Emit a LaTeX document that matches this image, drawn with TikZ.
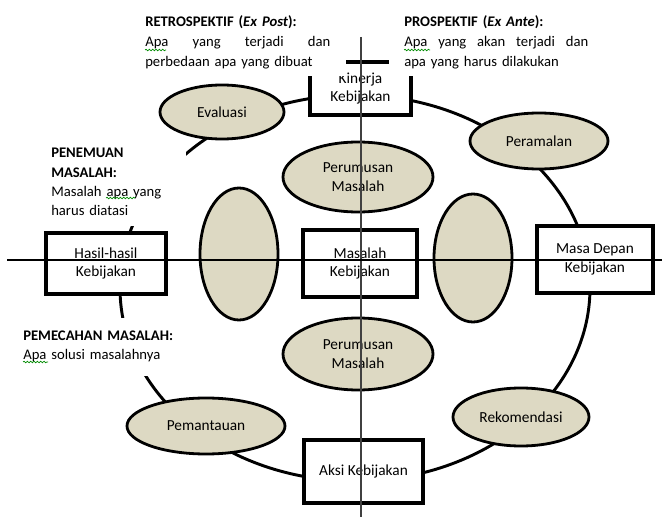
\documentclass[tikz,border=0pt]{standalone}
\usepackage{fontspec}
\setmainfont{Carlito}
\usetikzlibrary{shapes.geometric,decorations.pathmorphing}
\definecolor{ellfill}{HTML}{DDD9C3}
\begin{document}
\begin{tikzpicture}[x=0.75pt,y=-0.75pt,
  oval/.style={ellipse,draw=black,line width=2.1pt,fill=ellfill,inner sep=0pt,align=center,font=\fontsize{11.5}{14}\selectfont},
  boxnode/.style={rectangle,draw=black,line width=2.4pt,fill=white,inner sep=0pt,align=center,font=\fontsize{11.5}{14}\selectfont},
  note/.style={anchor=base west,inner sep=0pt,align=left,font=\fontsize{11}{15}\selectfont},
  cover/.style={fill=white},
  axisline/.style={line width=0.8pt},
  squig/.style={draw=green!55!black,line width=0.5pt,decorate,decoration={snake,amplitude=0.6pt,segment length=2.5pt}}
]
\useasboundingbox (0,0) rectangle (662,517);

% big cycle
\draw[line width=2.2pt] (355,288) ellipse [x radius=176.25pt, y radius=144.75pt];

% ellipses
\node[oval,minimum width=93pt,minimum height=40.5pt] (eval) at (222,112) {Evaluasi};
\node[oval,minimum width=103.5pt,minimum height=42pt] (peram) at (539,141) {Peramalan};
\node[oval,minimum width=102pt,minimum height=43.5pt] (rekom) at (521,417) {Rekomendasi};
\node[oval,minimum width=118.5pt,minimum height=42pt] (pemant) at (206,426) {Pemantauan};
\node[oval,minimum width=112.5pt,minimum height=52.5pt] (perumA) at (358,177) {Perumusan\\Masalah};
\node[oval,minimum width=112.5pt,minimum height=54pt] (perumB) at (358,354) {Perumusan\\Masalah};
\node[oval,minimum width=58.5pt,minimum height=99pt] (ellL) at (239,254) {};
\node[oval,minimum width=58.5pt,minimum height=96pt] (ellR) at (473,258) {};

% boxes
\node[boxnode,minimum width=75.75pt,minimum height=39.75pt] (kinerja) at (360.5,88.5) {Kinerja\\Kebijakan};
\node[boxnode,minimum width=90pt,minimum height=45.75pt] (hasil) at (106,263.5) {Hasil-hasil\\Kebijakan};
\node[boxnode,minimum width=85.5pt,minimum height=50.25pt] (masalah) at (360,263.5) {Masalah\\Kebijakan};
\node[boxnode,minimum width=87pt,minimum height=50.25pt] (masa) at (595,259.5) {Masa Depan\\Kebijakan};
\node[boxnode,minimum width=89.25pt,minimum height=47.25pt] (aksi) at (363.5,471.5) {Aksi Kebijakan};

% white backgrounds of the text blocks
\fill[cover] (140,3) rectangle (346,76);
\fill[cover] (389,3) rectangle (610,76);
\fill[cover] (44,140) rectangle (186,226);
\fill[cover] (18,318) rectangle (190,376);

% text blocks
\node[note,text width=138.75pt] (retro) at (145,27)
  {\textbf{RETROSPEKTIF (\textit{Ex Post}):}\\\leavevmode\hbox to\linewidth{Apa\hfill yang\hfill terjadi\hfill dan}\\perbedaan apa yang dibuat};
\node[note,text width=138pt] (prosp) at (404,27)
  {\textbf{PROSPEKTIF (\textit{Ex Ante}):}\\\leavevmode\hbox to\linewidth{Apa\hfill yang\hfill akan\hfill terjadi\hfill dan}\\apa yang harus dilakukan};
\node[note,text width=97.5pt,font=\fontsize{11}{14.5}\selectfont] (penemuan) at (51,158)
  {\textbf{PENEMUAN}\\\textbf{MASALAH:}\\Masalah apa yang\\harus diatasi};
\node[note,text width=127.5pt,font=\fontsize{11}{14.5}\selectfont] (pemecahan) at (23,340)
  {\textbf{PEMECAHAN MASALAH:}\\Apa solusi masalahnya};

% spell-check squiggles
\draw[squig] (145,50) -- (166,50);
\draw[squig] (404,50) -- (430,50);
\draw[squig] (106,198) -- (135,198);
\draw[squig] (23,362) -- (48,362);

% axes
\coordinate (vtop) at (361,37);
\coordinate (vbot) at (361,517);
\coordinate (hl) at (7,260);
\coordinate (hr) at (662,260);
\draw[axisline,black!75] (vtop) -- (vbot);
\draw[axisline] (hl) -- (hr);
\end{tikzpicture}
\end{document}
